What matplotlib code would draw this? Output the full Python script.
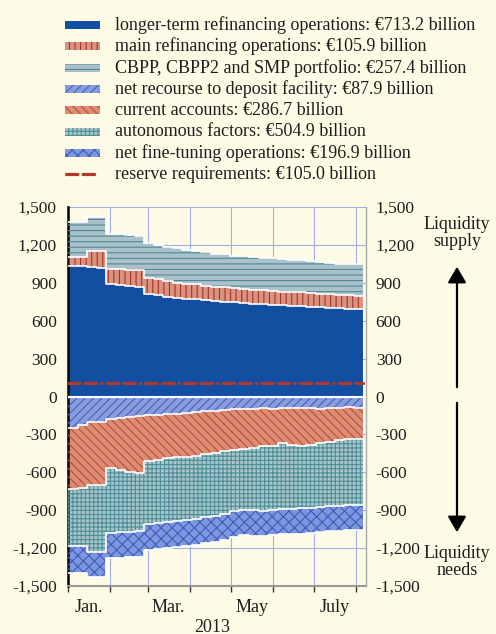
import matplotlib
matplotlib.use('Agg')
import matplotlib.pyplot as plt
import matplotlib.dates as mdates
from matplotlib.patches import Rectangle, FancyArrowPatch
from matplotlib.lines import Line2D
import numpy as np
import pandas as pd

# weekly observations, EUR billions
weeks = pd.date_range('2013-01-01', periods=31, freq='7D')
end_date = pd.Timestamp('2013-08-06')

# liquidity supply
ltro = [1032, 1032, 1022, 1020, 889, 882, 875, 868, 812, 800, 790, 782, 775, 768, 762, 756,
        750, 745, 740, 736, 731, 727, 723, 719, 715, 711, 707, 703, 699, 695, 691]
mro = [72, 75, 130, 128, 120, 125, 128, 130, 125, 128, 122, 120, 118, 120, 115, 112,
       118, 110, 112, 108, 110, 112, 108, 105, 110, 108, 104, 106, 103, 105, 106]
cbpp = [278, 278, 272, 270, 278, 276, 272, 270, 277, 275, 272, 270, 268, 266, 265, 263,
        262, 260, 258, 257, 256, 255, 254, 253, 252, 252, 251, 250, 250, 249, 248]

# liquidity needs
deposit = [250, 225, 205, 200, 180, 170, 165, 158, 150, 145, 140, 135, 128, 122, 118, 112,
           108, 100, 98, 95, 92, 95, 90, 92, 88, 90, 95, 90, 88, 86, 88]
current_acc = [480, 503, 495, 498, 385, 415, 433, 445, 360, 355, 350, 347, 347, 346, 337, 336,
               324, 325, 315, 310, 303, 295, 275, 288, 307, 295, 275, 270, 257, 252, 247]
autonomous = [453, 455, 530, 530, 514, 490, 474, 465, 498, 500, 502, 503, 503, 500, 500, 497,
              498, 480, 482, 495, 510, 510, 525, 508, 490, 496, 506, 510, 520, 522, 522]
fine_tuning = [214, 214, 198, 197, 199, 200, 200, 200, 206, 205, 206, 205, 205, 207, 205, 203,
               205, 206, 205, 205, 203, 200, 202, 200, 200, 198, 199, 198, 199, 200, 199]
reserve_req = 105.0

legend_labels = [
    'longer-term refinancing operations: €713.2 billion',
    'main refinancing operations: €105.9 billion',
    'CBPP, CBPP2 and SMP portfolio: €257.4 billion',
    'net recourse to deposit facility: €87.9 billion',
    'current accounts: €286.7 billion',
    'autonomous factors: €504.9 billion',
    'net fine-tuning operations: €196.9 billion',
    'reserve requirements: €105.0 billion',
]
yticks = [-1500, -1200, -900, -600, -300, 0, 300, 600, 900, 1200, 1500]
month_labels = ['Jan.', 'Mar.', 'May', 'July']
month_label_dates = pd.to_datetime(['2013-01-16', '2013-03-16', '2013-05-16', '2013-07-16'])

bg = '#FDFBE5'
txt = '#1E1E1E'
# (face, hatch colour, hatch)
styles = [
    ('#124FA1', None, None),
    ('#D9937F', '#A83228', '|||'),
    ('#AAC1CA', '#4F8996', '---'),
    ('#8B9CDB', '#3F62C4', '////'),
    ('#DB8C73', '#B5503C', '\\\\\\\\'),
    ('#A8C6CA', '#4E8E97', '++++'),
    ('#7F96DA', '#3A5BC2', 'xxx'),
]
res_color = '#B0392C'
res_dashes = [3.6, 1.6, 3.6, 1.6, 0.1, 1.6]

plt.rcParams['font.family'] = ['Liberation Serif', 'DejaVu Serif']
plt.rcParams['hatch.linewidth'] = 0.8

fig = plt.figure(figsize=(4.96, 6.34), dpi=100, facecolor=bg)
ax = fig.add_axes([68 / 496, 1 - 586 / 634, 298 / 496, 379 / 634])
ax.set_facecolor(bg)

x = list(weeks) + [end_date]
def ext(v):
    v = np.asarray(v, dtype=float)
    return np.append(v, v[-1])

supply = [ext(ltro), ext(mro), ext(cbpp)]
needs = [ext(deposit), ext(current_acc), ext(autonomous), ext(fine_tuning)]

def band(lo, hi, st):
    face, hcol, hatch = st
    ax.fill_between(x, lo, hi, step='post', facecolor=face, edgecolor='none', lw=0, zorder=2)
    if hatch:
        ax.fill_between(x, lo, hi, step='post', facecolor='none', edgecolor=hcol,
                        hatch=hatch, lw=0, zorder=3)

lo = np.zeros(len(x))
tops = []
for vals, st in zip(supply, styles[:3]):
    hi = lo + vals
    band(lo, hi, st)
    tops.append(hi)
    lo = hi

hi = np.zeros(len(x))
bots = []
for vals, st in zip(needs, styles[3:]):
    lo2 = hi - vals
    band(lo2, hi, st)
    bots.append(lo2)
    hi = lo2

for b in tops + bots:
    ax.step(x, b, where='post', color='white', lw=1.2, zorder=4)
ax.axhline(0, color='white', lw=1.5, zorder=4)

ax.plot([pd.Timestamp('2013-01-01'), end_date], [reserve_req, reserve_req], color=res_color,
        lw=2.3, dashes=res_dashes, dash_capstyle='round', zorder=5)

ax.set_xlim(pd.Timestamp('2013-01-01'), pd.Timestamp('2013-08-08'))
ax.set_ylim(-1500, 1500)
ax.set_yticks(yticks)
ax.set_yticklabels([f'{v:,}' for v in yticks], fontsize=12.5, color=txt)
ax.tick_params(axis='y', length=0, pad=8)

ax.xaxis.set_major_locator(mdates.MonthLocator())
ax.xaxis.set_major_formatter(plt.NullFormatter())
ax.tick_params(axis='x', which='major', length=4, width=1, color='#333333', direction='out')
ax.set_xticks(month_label_dates, minor=True)
ax.set_xticklabels(month_labels, minor=True, fontsize=13, color=txt)
ax.tick_params(axis='x', which='minor', length=0, pad=9)

ax.grid(True, which='major', color='#A3ADE6', lw=0.8, zorder=0)
ax.set_axisbelow(True)

ax.spines['top'].set_visible(False)
ax.spines['left'].set_color('black')
ax.spines['left'].set_linewidth(1.8)
ax.spines['bottom'].set_color('#999999')
ax.spines['bottom'].set_linewidth(1.5)
ax.spines['right'].set_color('#AAAAAA')
ax.spines['right'].set_linewidth(1.0)

ax2 = ax.twinx()
ax2.set_ylim(-1500, 1500)
ax2.set_yticks(yticks)
ax2.set_yticklabels([f'{v:,}' for v in yticks], fontsize=12.5, color=txt)
ax2.tick_params(axis='y', length=0, pad=7)
for s in ax2.spines.values():
    s.set_visible(False)

def fy(py):
    return 1 - py / 634

fig.text(212 / 496, fy(627), '2013', ha='center', va='center', fontsize=13, color=txt)

# right-hand annotations
ax_x = 457 / 496
fig.text(ax_x, fy(233), 'Liquidity\nsupply', ha='center', va='center', fontsize=13,
         linespacing=1.05, color=txt)
fig.text(ax_x, fy(562), 'Liquidity\nneeds', ha='center', va='center', fontsize=13,
         linespacing=1.05, color=txt)
fig.add_artist(FancyArrowPatch((ax_x, fy(390)), (ax_x, fy(264)),
               transform=fig.transFigure, arrowstyle='-|>,head_length=6,head_width=3.5',
               color='black', lw=1.6, mutation_scale=1.6))
fig.add_artist(FancyArrowPatch((ax_x, fy(400)), (ax_x, fy(535)),
               transform=fig.transFigure, arrowstyle='-|>,head_length=6,head_width=3.5',
               color='black', lw=1.6, mutation_scale=1.6))

# legend drawn by hand
for i, lab in enumerate(legend_labels):
    yc = 25 + 21.35 * i
    if i < len(styles):
        face, hcol, hatch = styles[i]
        fig.add_artist(Rectangle((65 / 496, fy(yc + 4)), 35 / 496, 8 / 634, transform=fig.transFigure,
                                 facecolor=face, edgecolor='none', lw=0))
        if hatch:
            fig.add_artist(Rectangle((65 / 496, fy(yc + 4)), 35 / 496, 8 / 634,
                                     transform=fig.transFigure, facecolor='none',
                                     edgecolor=hcol, hatch=hatch, lw=0))
    else:
        fig.add_artist(Line2D([66 / 496, 99 / 496], [fy(yc), fy(yc)], transform=fig.transFigure,
                              color=res_color, lw=2.3, dashes=res_dashes,
                              dash_capstyle='round'))
    fig.text(115 / 496, fy(yc), lab, ha='left', va='center', fontsize=13, color=txt)

fig.savefig('out.png', dpi=100, facecolor=bg)
